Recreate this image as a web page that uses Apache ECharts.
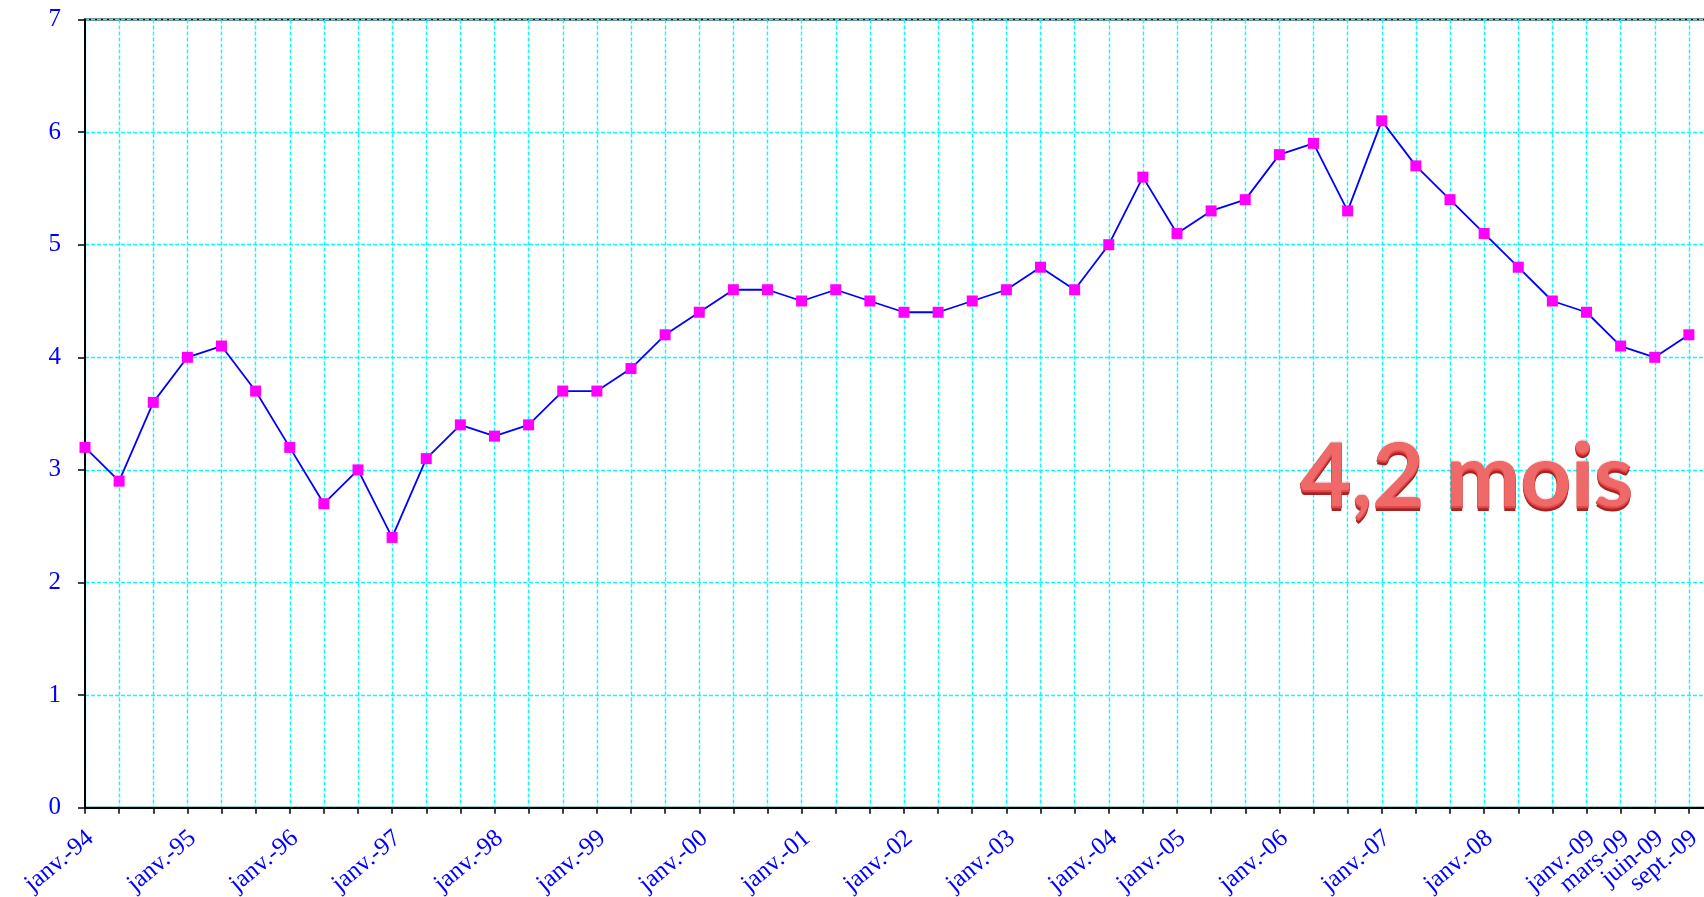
<!DOCTYPE html>
<html>
<head>
<meta charset="utf-8">
<title>Mois</title>
<script src="https://cdn.jsdelivr.net/npm/echarts@6/dist/echarts.min.js"></script>
<style>
    html, body {
        margin: 0;
        padding: 0;
        background: #ffffff;
    }
    #chart {
        width: 1704px;
        height: 897px;
    }
</style>
</head>
<body>
<div id="chart"></div>
<script>
// x axis labels (only some periods are labelled)
let dates = [
    "janv.-94", "", "", "janv.-95", "", "", "janv.-96", "", "", "janv.-97", "", "",
    "janv.-98", "", "", "janv.-99", "", "", "janv.-00", "", "", "janv.-01", "", "",
    "janv.-02", "", "", "janv.-03", "", "", "janv.-04", "", "janv.-05", "", "",
    "janv.-06", "", "", "janv.-07", "", "", "janv.-08", "", "", "janv.-09",
    "mars-09", "juin-09", "sept.-09"
];

// values (mois)
let months = [
    3.2, 2.9, 3.6, 4.0, 4.1, 3.7, 3.2, 2.7, 3.0, 2.4, 3.1, 3.4,
    3.3, 3.4, 3.7, 3.7, 3.9, 4.2, 4.4, 4.6, 4.6, 4.5, 4.6, 4.5,
    4.4, 4.4, 4.5, 4.6, 4.8, 4.6, 5.0, 5.6, 5.1, 5.3, 5.4, 5.8,
    5.9, 5.3, 6.1, 5.7, 5.4, 5.1, 4.8, 4.5, 4.4, 4.1, 4.0, 4.2
];

// y axis ticks
let yMin = 0;
let yMax = 7;
let yStep = 1;

let lastValue = "4,2 mois";

// the plot runs past the right edge of the picture: one empty slot more
let axisDates = dates.concat([""]);

let serif = "'Liberation Serif', 'Times New Roman', serif";
let blue = "#0000ff";
let cyanDash = {
    color: "#00ffff",
    width: 1.4,
    type: [4, 2]
};

var myChart = echarts.init(document.getElementById("chart"));

// word art: text does not take gradients, so stack a few solid layers
let artFont = "bold 89px Lato, 'Open Sans', sans-serif";
function artLayer(dx, dy, fill, extra) {
    let style = {
        text: lastValue,
        font: artFont,
        verticalAlign: "middle",
        fill: fill
    };
    Object.assign(style, extra || {});
    return {
        type: "text",
        x: 1300 + dx,
        y: 479 + dy,
        z: 100,
        style: style
    };
}

var option = {
    animation: false,
    backgroundColor: "#ffffff",
    grid: {
        show: true,
        left: 85,
        top: 19.5,
        right: -19,
        bottom: 89.3,
        borderColor: "#000000",
        borderWidth: 2,
        backgroundColor: "transparent",
        containLabel: false,
        outerBoundsMode: "none"
    },
    xAxis: {
        type: "category",
        boundaryGap: false,
        data: axisDates,
        axisLine: {
            lineStyle: { color: "#000000", width: 2 }
        },
        axisTick: {
            interval: 0,
            length: 6,
            lineStyle: { color: "#000000", width: 1.5 }
        },
        axisLabel: {
            interval: 0,
            rotate: 40,
            margin: 32,
            padding: [0, -7, 0, 0],
            color: blue,
            fontFamily: serif,
            fontSize: 25
        },
        splitLine: {
            show: true,
            interval: 0,
            lineStyle: cyanDash
        }
    },
    yAxis: {
        type: "value",
        min: yMin,
        max: yMax,
        interval: yStep,
        axisLine: {
            show: true,
            lineStyle: { color: "#000000", width: 2 }
        },
        axisTick: {
            show: true,
            length: 7,
            lineStyle: { color: "#000000", width: 1.5 }
        },
        axisLabel: {
            margin: 24,
            color: blue,
            fontFamily: serif,
            fontSize: 25
        },
        splitLine: {
            show: true,
            lineStyle: cyanDash
        }
    },
    series: [
        {
            type: "line",
            data: months,
            symbol: "rect",
            symbolSize: 11,
            lineStyle: { color: "#0000ff", width: 1.8 },
            itemStyle: { color: "#ff00ff" }
        }
    ],
    // big red "4,2 mois"
    graphic: [
        artLayer(0, 3, "#a82424", {
            shadowColor: "rgba(90, 10, 10, 0.4)",
            shadowBlur: 4,
            shadowOffsetY: 2
        }),
        artLayer(0, 0, "#e64848", {
            stroke: "#c83434",
            lineWidth: 1
        }),
        artLayer(0, -1.5, "rgba(255, 170, 170, 0.35)")
    ]
};

myChart.setOption(option);
</script>
</body>
</html>
